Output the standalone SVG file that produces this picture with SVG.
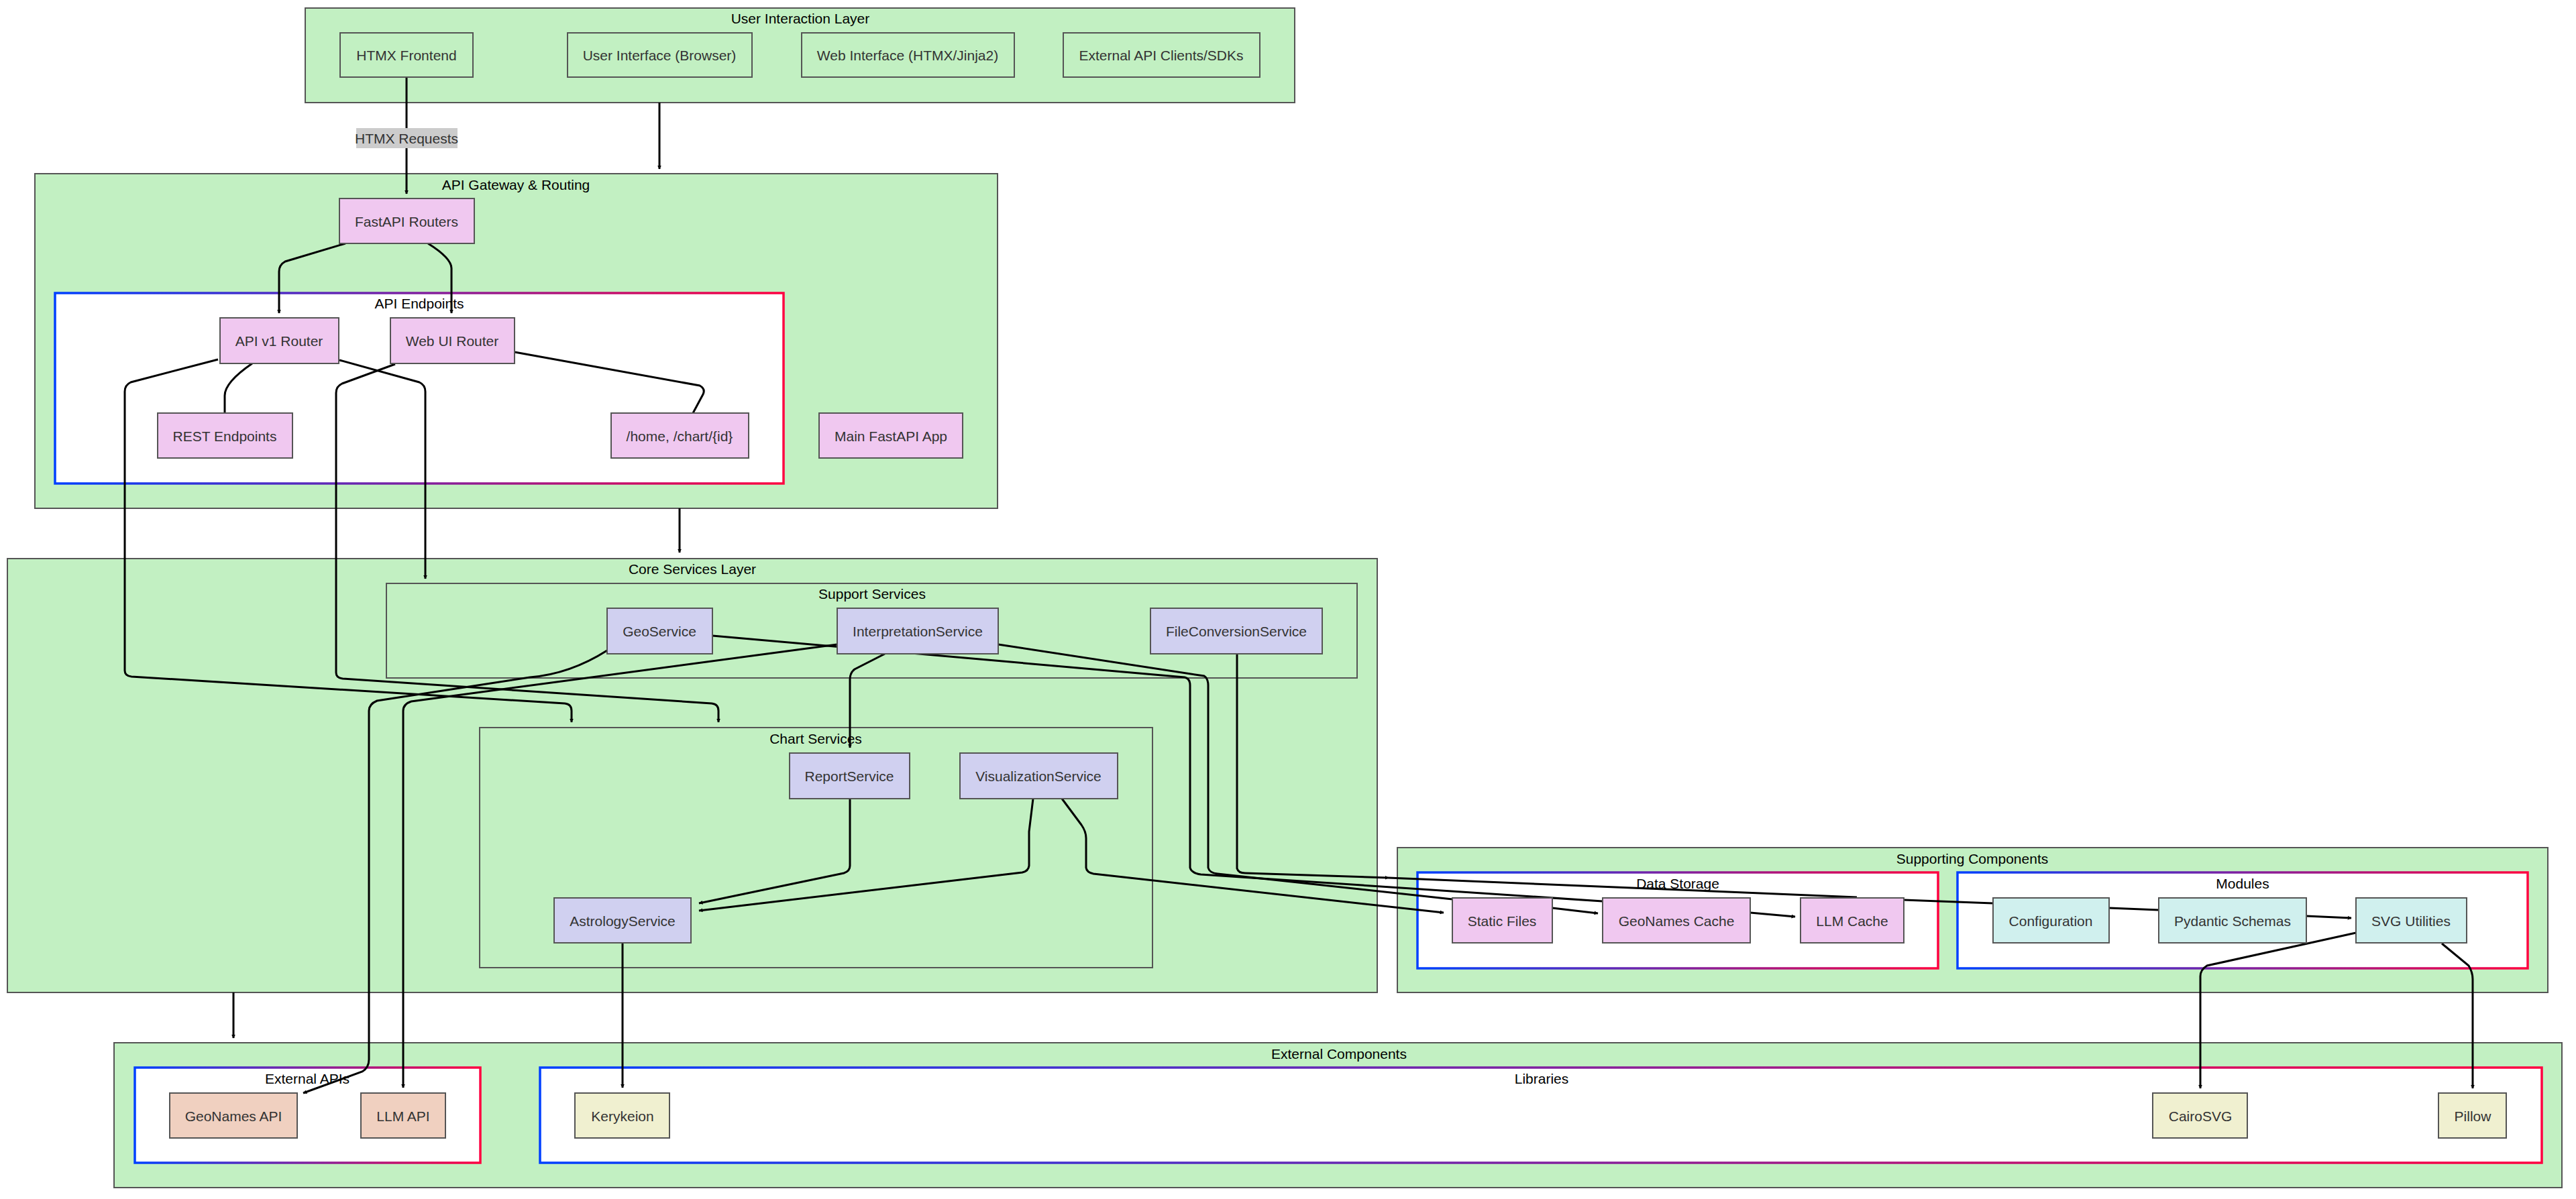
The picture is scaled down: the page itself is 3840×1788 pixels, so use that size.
<svg xmlns="http://www.w3.org/2000/svg" width="3840" height="1788" viewBox="0 0 3840 1788">
<style>
text{font-family:"Liberation Sans",Arial,sans-serif;font-size:21px;fill:#333;text-anchor:middle;dominant-baseline:central}
.t{fill:#000}
.layer{fill:#c2f0c2;stroke:#555;stroke-width:2}
.grad{fill:#fff;stroke:url(#g);stroke-width:3.5}
.n{stroke:#555;stroke-width:2}
.gr{fill:#c2f0c2}.pk{fill:#f0c8f0}.lv{fill:#d0d0f0}.cy{fill:#d0f0ee}.pe{fill:#f0d0c0}.cr{fill:#f0f0d0}
.e{fill:none;stroke:#000;stroke-width:3}
.a{marker-end:url(#m)}
</style>
<defs>
<linearGradient id="g" x1="0" y1="0" x2="1" y2="0"><stop offset="0" stop-color="#0040ff"/><stop offset="1" stop-color="#ff0040"/></linearGradient>
<marker id="m" viewBox="0 0 10 10" refX="9" refY="5" markerWidth="6" markerHeight="6" markerUnits="userSpaceOnUse" orient="auto"><path d="M0,0L10,5L0,10z" fill="#000"/></marker>
</defs>
<g id="clusters">
<rect class="layer" x="455" y="12" width="1475" height="141"/><text class="t" x="1193" y="27">User Interaction Layer</text>
<rect class="layer" x="52" y="259" width="1435" height="499"/><text class="t" x="769" y="275">API Gateway &amp; Routing</text>
<rect class="grad" x="82" y="437" width="1086" height="284"/><text class="t" x="625" y="452">API Endpoints</text>
<rect class="layer" x="11" y="833" width="2042" height="647"/><text class="t" x="1032" y="848">Core Services Layer</text>
<rect class="layer" x="576" y="870" width="1447" height="141"/><text class="t" x="1300" y="885">Support Services</text>
<rect class="layer" x="715" y="1085" width="1003" height="358"/><text class="t" x="1216" y="1101">Chart Services</text>
<rect class="layer" x="2083" y="1264" width="1715" height="216"/><text class="t" x="2940" y="1280">Supporting Components</text>
<rect class="grad" x="2113" y="1301" width="776" height="143"/><text class="t" x="2501" y="1317">Data Storage</text>
<rect class="grad" x="2918" y="1301" width="850" height="143"/><text class="t" x="3343" y="1317">Modules</text>
<rect class="layer" x="170" y="1555" width="3649" height="216"/><text class="t" x="1996" y="1571">External Components</text>
<rect class="grad" x="201" y="1592" width="515" height="142"/><text class="t" x="458" y="1608">External APIs</text>
<rect class="grad" x="805" y="1592" width="2984" height="142"/><text class="t" x="2298" y="1608">Libraries</text>
</g>
<g id="connectors">
<path class="e a" d="M606,116V289"/>
<path class="e a" d="M983,153V252"/>
<path class="e a" d="M1013,758V824"/>
<path class="e a" d="M348,1480V1548"/>
<path class="e a" d="M515,363L425,390Q416,395 416,405V467"/>
<path class="e a" d="M638,363Q673,385 673,400V467"/>
<path class="e" d="M376,542Q335,570 335,590V616"/>
<path class="e" d="M767,525L1043,575Q1052,580 1048,588L1033,616"/>
<path class="e a" d="M325,536L195,570Q186,574 186,584V1000Q186,1008 196,1009L842,1049Q852,1050 852,1060V1077"/>
<path class="e a" d="M506,537L625,570Q634,574 634,584V863"/>
<path class="e a" d="M589,543L510,572Q501,576 501,586V1003Q501,1011 511,1012L1061,1049Q1071,1050 1071,1060V1077"/>
<path class="e a" d="M1319,975L1274,998Q1267,1003 1267,1013V1115"/>
<path class="e a" d="M1267,1191V1291Q1267,1299 1258,1302L1042,1347"/>
<path class="e a" d="M1540,1191L1534,1240V1291Q1533,1299 1524,1301L1042,1358"/>
<path class="e a" d="M1583,1191L1612,1230Q1619,1240 1619,1250V1294Q1620,1301 1630,1303L2152,1361"/>
<path class="e" d="M1062,948L1766,1010Q1774,1012 1774,1022V1294Q1776,1302 1790,1304L2389,1344"/>
<path class="e" d="M1488,961L1795,1008Q1801,1012 1801,1022V1294Q1803,1302 1815,1303L2165,1341"/>
<path class="e a" d="M1844,975V1295Q1846,1302 1856,1302L2070,1309"/>
<path class="e" d="M2070,1309L2768,1338"/>
<path class="e" d="M2838,1342L2971,1347"/>
<path class="e a" d="M905,970Q850,1005 790,1010L562,1045Q550,1050 550,1060V1580Q550,1592 540,1598L452,1630"/>
<path class="e a" d="M1248,961L613,1046Q601,1050 601,1060V1622"/>
<path class="e a" d="M928,1406V1622"/>
<path class="e a" d="M2314,1354L2382,1362"/>
<path class="e a" d="M2609,1361L2676,1367"/>
<path class="e" d="M3144,1354L3218,1357"/>
<path class="e a" d="M3438,1366L3505,1369"/>
<path class="e a" d="M3512,1391L3290,1440Q3280,1446 3280,1456V1623"/>
<path class="e a" d="M3640,1407L3680,1440Q3686,1450 3686,1460V1623"/>
<rect x="531" y="191" width="151" height="30" fill="#ccc"/><text x="606" y="206">HTMX Requests</text>
</g>
<g id="n-htmx"><rect class="n gr" x="507" y="49" width="198" height="66"/><text x="606" y="82">HTMX Frontend</text></g>
<g id="n-ui"><rect class="n gr" x="846" y="49" width="275" height="66"/><text x="983" y="82">User Interface (Browser)</text></g>
<g id="n-web"><rect class="n gr" x="1195" y="49" width="317" height="66"/><text x="1353" y="82">Web Interface (HTMX/Jinja2)</text></g>
<g id="n-ext"><rect class="n gr" x="1585" y="49" width="293" height="66"/><text x="1731" y="82">External API Clients/SDKs</text></g>
<g id="n-fastapi"><rect class="n pk" x="506" y="296" width="201" height="67"/><text x="606" y="330">FastAPI Routers</text></g>
<g id="n-apiv1"><rect class="n pk" x="328" y="474" width="177" height="68"/><text x="416" y="508">API v1 Router</text></g>
<g id="n-webui"><rect class="n pk" x="582" y="474" width="185" height="68"/><text x="674" y="508">Web UI Router</text></g>
<g id="n-rest"><rect class="n pk" x="235" y="616" width="201" height="67"/><text x="335" y="650">REST Endpoints</text></g>
<g id="n-home"><rect class="n pk" x="911" y="616" width="205" height="67"/><text x="1013" y="650">/home, /chart/{id}</text></g>
<g id="n-main"><rect class="n pk" x="1221" y="616" width="214" height="67"/><text x="1328" y="650">Main FastAPI App</text></g>
<g id="n-geo"><rect class="n lv" x="905" y="907" width="157" height="68"/><text x="983" y="941">GeoService</text></g>
<g id="n-interp"><rect class="n lv" x="1248" y="907" width="240" height="68"/><text x="1368" y="941">InterpretationService</text></g>
<g id="n-file"><rect class="n lv" x="1715" y="907" width="256" height="68"/><text x="1843" y="941">FileConversionService</text></g>
<g id="n-report"><rect class="n lv" x="1177" y="1123" width="179" height="68"/><text x="1266" y="1157">ReportService</text></g>
<g id="n-vis"><rect class="n lv" x="1431" y="1123" width="235" height="68"/><text x="1548" y="1157">VisualizationService</text></g>
<g id="n-astro"><rect class="n lv" x="826" y="1339" width="204" height="67"/><text x="928" y="1373">AstrologyService</text></g>
<g id="n-static"><rect class="n pk" x="2165" y="1339" width="149" height="67"/><text x="2239" y="1373">Static Files</text></g>
<g id="n-gcache"><rect class="n pk" x="2389" y="1339" width="220" height="67"/><text x="2499" y="1373">GeoNames Cache</text></g>
<g id="n-llmcache"><rect class="n pk" x="2684" y="1339" width="154" height="67"/><text x="2761" y="1373">LLM Cache</text></g>
<g id="n-config"><rect class="n cy" x="2971" y="1339" width="173" height="67"/><text x="3057" y="1373">Configuration</text></g>
<g id="n-pyd"><rect class="n cy" x="3218" y="1339" width="220" height="67"/><text x="3328" y="1373">Pydantic Schemas</text></g>
<g id="n-svg"><rect class="n cy" x="3512" y="1339" width="165" height="67"/><text x="3594" y="1373">SVG Utilities</text></g>
<g id="n-geoapi"><rect class="n pe" x="253" y="1630" width="190" height="67"/><text x="348" y="1664">GeoNames API</text></g>
<g id="n-llmapi"><rect class="n pe" x="538" y="1630" width="126" height="67"/><text x="601" y="1664">LLM API</text></g>
<g id="n-kery"><rect class="n cr" x="857" y="1630" width="141" height="67"/><text x="928" y="1664">Kerykeion</text></g>
<g id="n-cairo"><rect class="n cr" x="3209" y="1630" width="141" height="67"/><text x="3280" y="1664">CairoSVG</text></g>
<g id="n-pillow"><rect class="n cr" x="3635" y="1630" width="101" height="67"/><text x="3686" y="1664">Pillow</text></g>
</svg>
